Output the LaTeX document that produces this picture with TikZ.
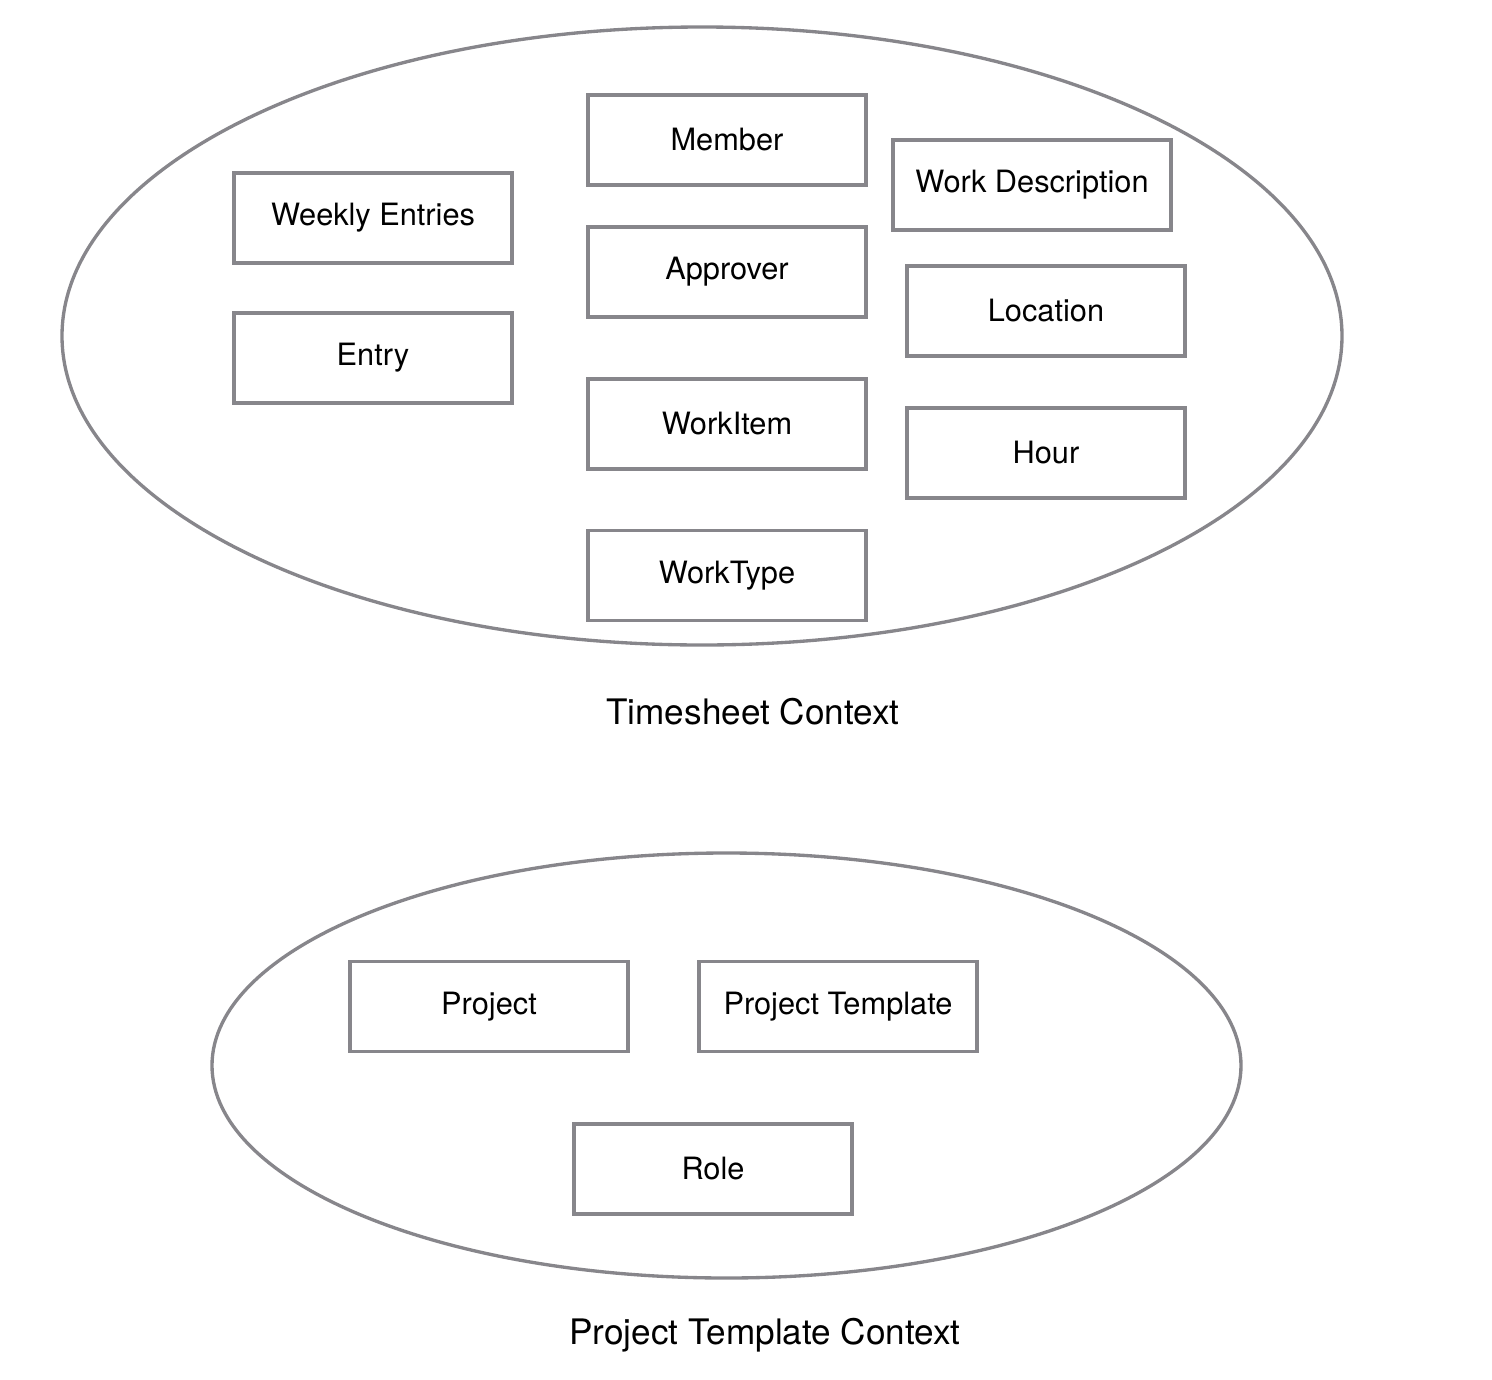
\documentclass[tikz,border=0pt]{standalone}
\usepackage{fontspec}
\setmainfont{TeX Gyre Heros}
\usepackage{xcolor}
\usepackage{tikz}
\usetikzlibrary{positioning}

\definecolor{ctxgray}{HTML}{87868B}

\begin{document}
\begin{tikzpicture}[x=0.02cm, y=-0.02cm,
    entity/.style={draw=ctxgray, line width=1.9pt, minimum width=5.56cm, minimum height=1.8cm, inner sep=0pt, font=\fontsize{17.5}{20}\selectfont},
    ctxlabel/.style={font=\fontsize{20}{24}\selectfont}]
    \useasboundingbox (0,0) rectangle (1492,1380);
    % Timesheet context
    \draw[ctxgray, line width=1.9pt] (702,336) ellipse [x radius=640, y radius=309];
    \node[entity] (weekly) at (373,218) {Weekly Entries};
    \node[entity] (entry) at (373,358) {Entry};
    \node[entity] (member) at (727,140) {Member};
    \node[entity] (approver) at (727,272) {Approver};
    \node[entity] (workitem) at (727,424) {WorkItem};
    \node[entity] (worktype) at (727,575.5) {WorkType};
    \node[entity] (workdesc) at (1032,185) {Work Description};
    \node[entity] (location) at (1046,311) {Location};
    \node[entity] (hour) at (1046,453) {Hour};
    \node[ctxlabel] (tslabel) at (753,712) {Timesheet Context};
    % Project template context
    \draw[ctxgray, line width=1.9pt] (726.5,1065.5) ellipse [x radius=514.5, y radius=212.5];
    \node[entity] (project) at (489,1006.5) {Project};
    \node[entity] (template) at (838,1006.5) {Project Template};
    \node[entity] (role) at (713,1169) {Role};
    \node[ctxlabel] (ptlabel) at (765,1335) {Project Template Context};
\end{tikzpicture}
\end{document}
